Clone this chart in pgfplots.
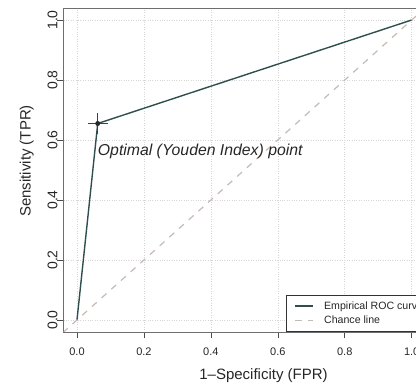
\documentclass[border=0pt]{standalone}
\usepackage{fontspec}
\setmainfont{Liberation Sans}
\usepackage{pgfplots}
\pgfplotsset{compat=1.18}
\definecolor{roccol}{RGB}{47,79,79}
\definecolor{chancecol}{RGB}{198,186,180}
\definecolor{gridcol}{RGB}{215,215,215}
\definecolor{framecol}{RGB}{110,110,110}
\begin{document}
\begin{tikzpicture}
\begin{axis}[
  scale only axis,
  width=361.5pt, height=324pt,
  xmin=-0.04, xmax=1.04, ymin=-0.04, ymax=1.04,
  xtick={0,0.2,0.4,0.6,0.8,1.0},
  ytick={0,0.2,0.4,0.6,0.8,1.0},
  xticklabels={0.0,0.2,0.4,0.6,0.8,1.0},
  yticklabels={0.0,0.2,0.4,0.6,0.8,1.0},
  tick align=outside, tick pos=left,
  major tick length=6.5pt,
  every tick/.style={black!70, line width=0.6pt},
  axis line style={framecol, line width=0.7pt},
  grid=major,
  major grid style={gridcol, dotted, line width=0.6pt},
  /pgf/number format/assume math mode=true,
  xticklabel style={font=\fontsize{11}{13}\selectfont, text=black!85, anchor=north, inner sep=0pt},
  yticklabel style={font=\fontsize{14}{16}\selectfont, text=black!85, anchor=center, xshift=-4.5pt, rotate=90, inner sep=0pt},
  xticklabel shift=9pt,
  xlabel={1\textendash Specificity (FPR)},
  ylabel={Sensitivity (TPR)},
  label style={font=\fontsize{15}{18}\selectfont, text=black!85},
  xlabel style={at={(axis description cs:0.553,-0.136)}, anchor=center},
  ylabel style={at={(axis description cs:-0.102,0.528)}, anchor=center, rotate=0},
  legend style={at={(axis description cs:0.615,0)}, anchor=south west,
    draw=black!80, line width=0.6pt, fill=white, text=black!85,
    font=\fontsize{10.6}{12.5}\selectfont, inner xsep=8.5pt, inner ysep=4.5pt,
    row sep=1.5pt,
    /tikz/every odd column/.append style={column sep=8pt}},
  legend cell align=left,
  legend image code/.code={\draw[#1] (0pt,0pt) -- (18pt,0pt);},
  clip=true,
]
\addplot[roccol, line width=1.4pt] coordinates {(0,0) (0.062,0.655) (1,1)};
\addlegendentry{Empirical ROC curve}
\addplot[chancecol, line width=1.2pt, dash pattern=on 6.5pt off 6.5pt] coordinates {(-0.1,-0.1) (1.2,1.2)};
\addlegendentry{Chance line}
\addplot[black!85, mark=*, mark size=2.2pt, forget plot,
  error bars/.cd, x dir=both, x explicit, y dir=both, y explicit,
  error mark=none, error bar style={black!75, line width=0.6pt}]
  coordinates {(0.062,0.655) +- (0.03,0.035)};
\node[anchor=west, inner sep=0pt, font=\fontsize{15.8}{18}\selectfont\itshape, text=black!85]
  at (axis cs:0.062,0.562) {Optimal (Youden Index) point};
\end{axis}
\pgfresetboundingbox
\useasboundingbox (-63.6pt,-53pt) rectangle (352.4pt,332pt);
\end{tikzpicture}
\end{document}
